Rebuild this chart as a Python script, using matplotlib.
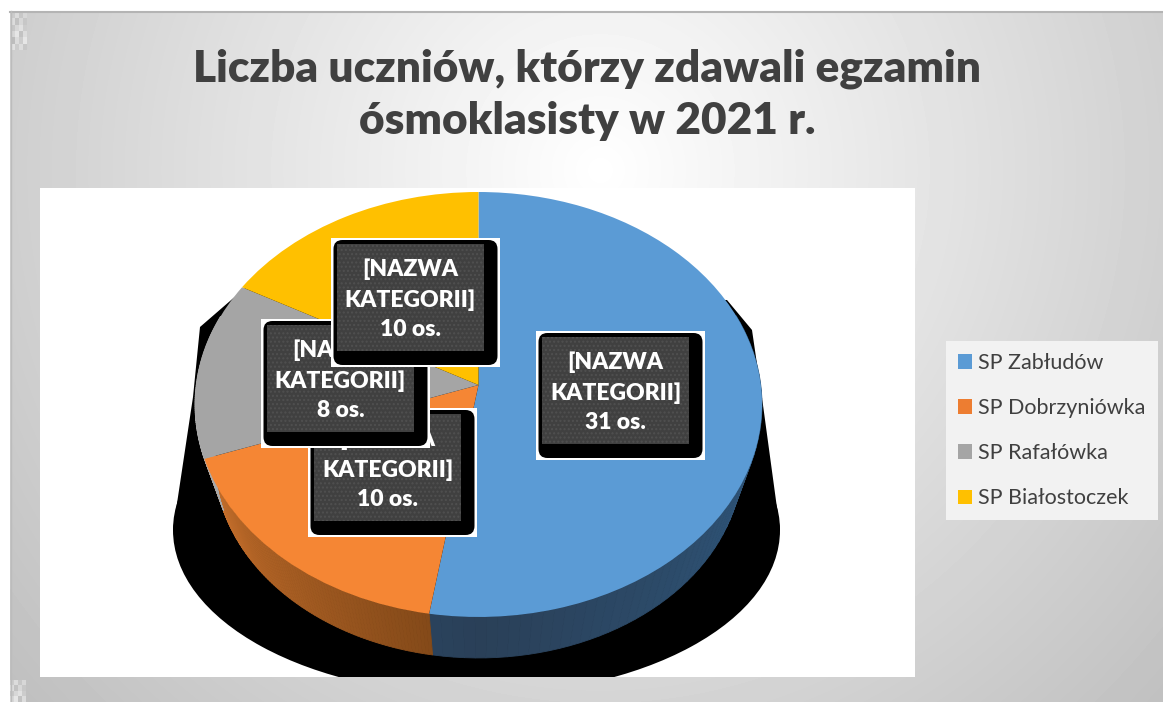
import numpy as np
import matplotlib
matplotlib.use("Agg")
import matplotlib.pyplot as plt
from matplotlib.patches import Rectangle, FancyBboxPatch, Ellipse, Patch, Polygon
from matplotlib.transforms import Transform

W, H = 1163, 702
title = "Liczba uczniów, którzy zdawali egzamin\nósmoklasisty w 2021 r."
categories = ["SP Zabłudów", "SP Dobrzyniówka", "SP Rafałówka", "SP Białostoczek"]
values = [31, 10, 8, 10]
colors = ["#5b9bd5", "#f58634", "#a5a5a5", "#ffc000"]
legend_colors = ["#5b9bd5", "#ed7d31", "#a5a5a5", "#ffc000"]
side_near = ["#2a4058", "#7a4416", "#9a9a9a", "#b08400"]
side_far = ["#2e5478", "#c8702c", "#a8a8a8", "#b08400"]
label_left = [536, 308, 261, 331]
label_top = [331, 408, 319, 238]
label_order = [0, 1, 2, 3]

plt.rcParams["font.family"] = ["Lato", "DejaVu Sans"]
fig = plt.figure(figsize=(W / 100, H / 100), dpi=100, facecolor="white")


def px_axes(zorder):
    a = fig.add_axes([0, 0, 1, 1], zorder=zorder)
    a.set_xlim(0, W)
    a.set_ylim(H, 0)
    a.axis("off")
    a.patch.set_alpha(0)
    return a


# background
bg = px_axes(0)
yy, xx = np.mgrid[11:H, 10:W]
r = np.hypot((xx - 600) / 640, (yy - 170) / 650)
bg.imshow(1 - 0.205 * r, extent=(10, W, H, 11), cmap="gray", vmin=0, vmax=1, aspect="auto")
bg.set_xlim(0, W)
bg.set_ylim(H, 0)
bg.plot([10, W], [11.5, 11.5], color="#b4b4b4", lw=1.5)
bg.plot([10.5, 10.5], [11, H], color="#bcbcbc", lw=1)
# scanning speckle in the left corners
checker = np.array([[.80, .86, .78, .84], [.86, .76, .84, .78], [.78, .84, .88, .80], [.84, .90, .76, .86],
                    [.74, .86, .80, .90], [.88, .80, .86, .78]])
bg.imshow(checker, extent=(11, 27, 50, 12), cmap="gray", vmin=0, vmax=1, aspect="auto", interpolation="nearest")
bg.imshow(checker[:4], extent=(10, 26, 702, 680), cmap="gray", vmin=0, vmax=1, aspect="auto", interpolation="nearest")
bg.set_xlim(0, W)
bg.set_ylim(H, 0)
bg.text(587, 95, title, ha="center", va="center", fontsize=31.8, fontweight="heavy",
        color="#404040", linespacing=1.36)
panel = Rectangle((40, 188), 875, 489, facecolor="white", edgecolor="none")
bg.add_patch(panel)

# shadow of the pie
shadow = Ellipse((476.5, 530), 607, 330, facecolor="black", edgecolor="none")
bg.add_patch(shadow)
shadow.set_clip_path(panel)
outline = Polygon([(245, 288), (200, 327), (193, 397), (173, 530), (780, 530), (763, 405),
                   (752, 330), (727, 300)], closed=True, facecolor="black", edgecolor="none")
bg.add_patch(outline)

# pie, seen in perspective: the unit circle is projected to pixels
CX, CY = 478.5, 385.0
UP, DOWN = 193.0, 232.0
B = (DOWN - UP) / (DOWN + UP)
A = UP * (1 + B)
C = 283.5 * np.sqrt(1 - B * B)


class Perspective(Transform):
    input_dims = output_dims = 2
    is_separable = False

    def transform_non_affine(self, pts):
        pts = np.asarray(pts, dtype=float)
        d = 1 + B * pts[:, 1]
        return np.column_stack([CX + C * pts[:, 0] / d, CY - A * pts[:, 1] / d])

    def inverted(self):
        raise NotImplementedError


persp = Perspective()
ax = px_axes(1)

# side wall: a narrower, lower copy of the rim
SHRINK, DROP = 0.93, 57.2
edges = np.cumsum([0] + values) / sum(values) * 2 * np.pi
near_t = np.pi
for i in range(len(values)):
    ts = np.linspace(edges[i], edges[i + 1], 90)
    ts = ts[(ts > np.pi / 2 - 0.35) & (ts < 3 * np.pi / 2 + 0.35)]
    c0 = np.array(matplotlib.colors.to_rgb(side_near[i]))
    c1 = np.array(matplotlib.colors.to_rgb(side_far[i]))
    if len(ts) < 2:
        continue
    rim = persp.transform_non_affine(np.column_stack([np.sin(ts), np.cos(ts)]))
    low = np.column_stack([CX + SHRINK * (rim[:, 0] - CX), CY + SHRINK * (rim[:, 1] - CY) + DROP])
    for j in range(len(ts) - 1):
        m = min(abs((ts[j] + ts[j + 1]) / 2 - near_t) / 1.25, 1)
        col = c0 + (c1 - c0) * m
        ax.fill([rim[j, 0], rim[j + 1, 0], low[j + 1, 0], low[j, 0]],
                [rim[j, 1], rim[j + 1, 1], low[j + 1, 1], low[j, 1]],
                facecolor=col, edgecolor=col, lw=0.6, zorder=1)

wedges, _ = ax.pie(values, colors=colors, startangle=90, counterclock=False, radius=1,
                   wedgeprops=dict(linewidth=0, zorder=2))
ax.set_aspect("auto")
ax.set_xlim(0, W)
ax.set_ylim(H, 0)
ax.axis("off")
for w in wedges:
    w.set_transform(persp + ax.transData)
    w.set_clip_on(False)

# data labels
lab = px_axes(2)
for k, i in enumerate(label_order):
    x0, y0 = label_left[i], label_top[i]
    z = 10 + 5 * k
    lab.add_patch(Rectangle((x0, y0), 169, 129, facecolor="white", edgecolor="none", zorder=z))
    lab.add_patch(FancyBboxPatch((x0 + 2.5, y0 + 2), 164, 125, boxstyle="round,pad=0,rounding_size=9",
                                 facecolor="black", edgecolor="none", lw=0, zorder=z + 1))
    lab.add_patch(Rectangle((x0 + 6, y0 + 6), 147, 107, facecolor="#404040", edgecolor="#505050",
                            hatch="....", lw=0, zorder=z + 2))
    lab.text(x0 + 79.5, y0 + 61.5, f"[NAZWA\nKATEGORII]\n{values[i]} os.", ha="center", va="center",
             color="white", fontweight="heavy", fontsize=16.5, linespacing=1.5, zorder=z + 3)

# legend
handles = [Patch(facecolor=c, edgecolor="none") for c in legend_colors]
leg = fig.legend(handles, categories, loc="upper left", bbox_to_anchor=(946 / W, 1 - 341 / H),
                 borderaxespad=0, frameon=True, fancybox=False, facecolor="#f2f2f2", edgecolor="none",
                 framealpha=1, fontsize=15.5, labelcolor="#404040", handlelength=0.65, handleheight=0.65,
                 handletextpad=0.28, labelspacing=1.165, borderpad=0.56)
leg.set_zorder(5)

fig.savefig("out.png", dpi=100)
